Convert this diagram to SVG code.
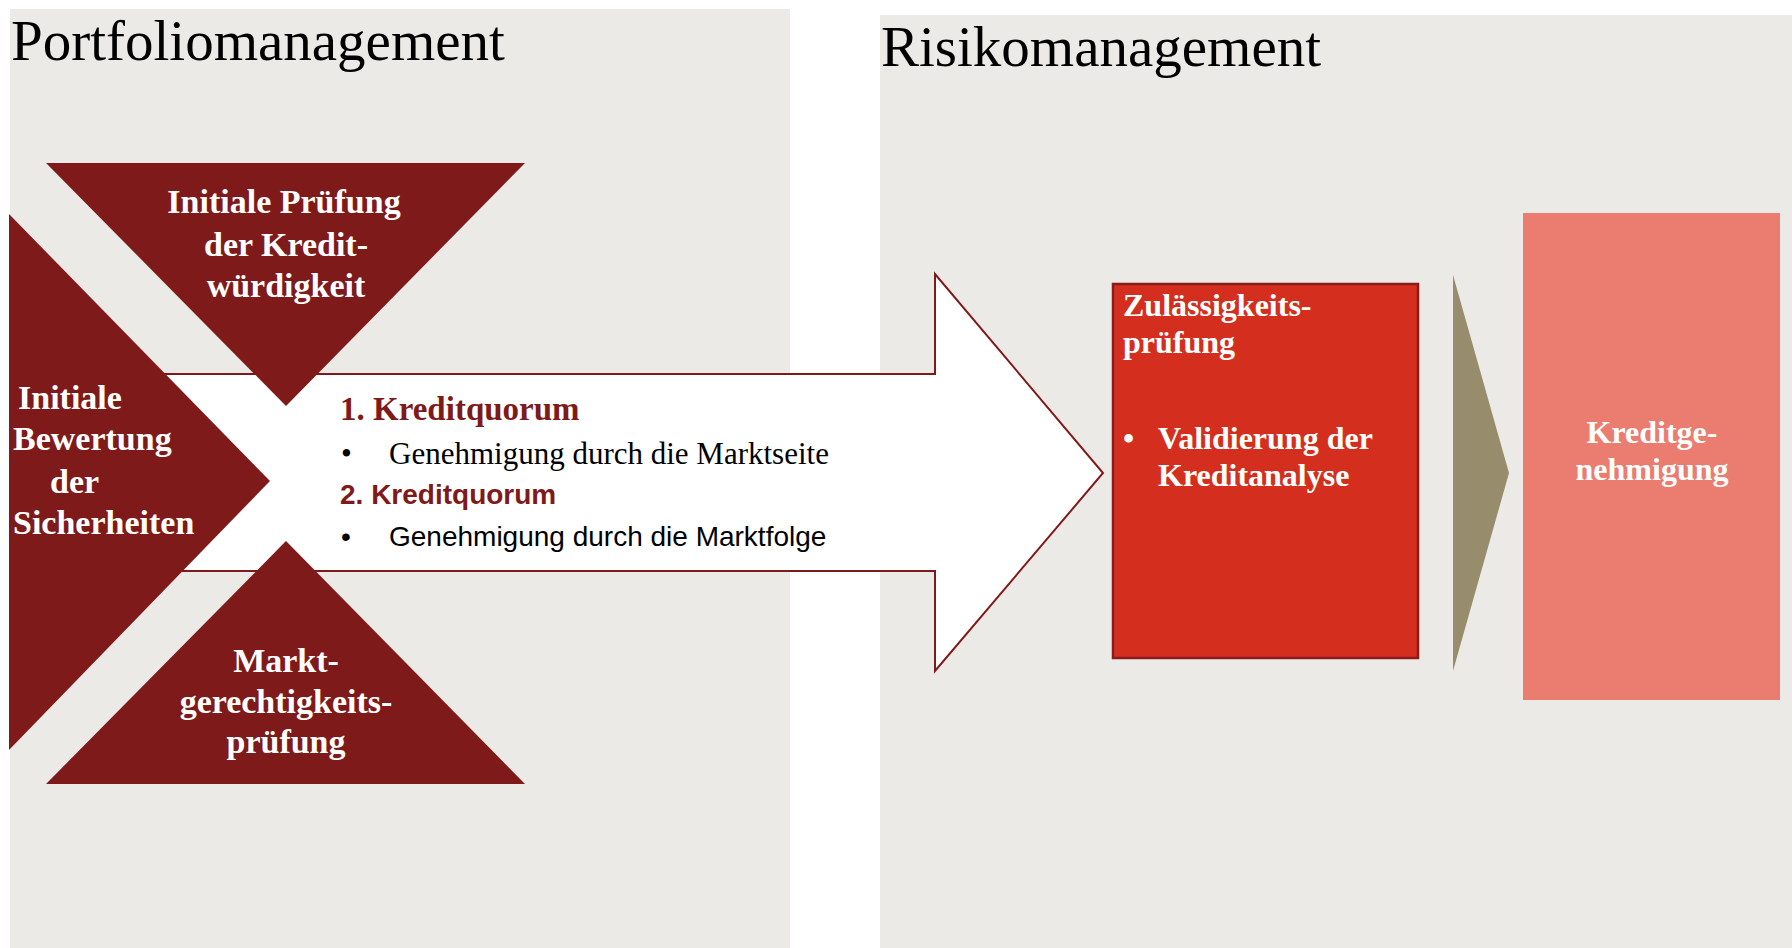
<svg xmlns="http://www.w3.org/2000/svg" width="1792" height="948" viewBox="0 0 1792 948">
<style>
.panel{fill:#ECEAE6}
.title{font-family:"Liberation Serif",serif;font-size:57px;fill:#000}
.tri{fill:#7F1A1A}
.wb{font-family:"Liberation Serif",serif;font-weight:bold;font-size:34px;fill:#fff}
.sm{font-size:32px}
.c{text-anchor:middle}
.q1{font-family:"Liberation Serif",serif;font-weight:bold;font-size:33px;fill:#7F1A1A}
.s1{font-family:"Liberation Serif",serif;font-size:31px;fill:#000}
.q2{font-family:"Liberation Sans",sans-serif;font-weight:bold;font-size:28px;fill:#7F1A1A}
.s2{font-family:"Liberation Sans",sans-serif;font-size:28px;fill:#000}
</style>
<rect width="1792" height="948" fill="#fff"/>
<g id="panel-portfolio">
<rect class="panel" x="10" y="9" width="780" height="939"/>
<text class="title" x="11" y="60">Portfoliomanagement</text>
</g>
<g id="panel-risiko">
<rect class="panel" x="880" y="15" width="912" height="933"/>
<text class="title" x="881" y="66">Risikomanagement</text>
</g>
<g id="connectors">
<path id="big-arrow" d="M10,374 L935,374 L935,274 L1103,473 L935,671 L935,571 L10,571 Z" fill="#fff" stroke="#7F1A1A" stroke-width="2"/>
<polygon id="chevron" points="1453,275 1509,473 1453,671" fill="#978C6B"/>
</g>
<g id="node-pruefung">
<polygon class="tri" points="46,163 525,163 286,406"/>
<text class="wb c" x="284" y="213">Initiale Prüfung</text>
<text class="wb c" x="286" y="256">der Kredit-</text>
<text class="wb c" x="286" y="297">würdigkeit</text>
</g>
<g id="node-bewertung">
<polygon class="tri" points="9,214 270,481 9,750"/>
<text class="wb" x="18" y="409">Initiale</text>
<text class="wb" x="13" y="450">Bewertung</text>
<text class="wb" x="50" y="493">der</text>
<text class="wb" x="13" y="534">Sicherheiten</text>
</g>
<g id="node-markt">
<polygon class="tri" points="286,541 525,784 46,784"/>
<text class="wb c" x="286" y="672">Markt-</text>
<text class="wb c" x="286" y="713">gerechtigkeits-</text>
<text class="wb c" x="286" y="753">prüfung</text>
</g>
<g id="node-quorum">
<text class="q1" x="340" y="420">1. Kreditquorum</text>
<text class="s1" x="341" y="464">•</text>
<text class="s1" x="389" y="464">Genehmigung durch die Marktseite</text>
<text class="q2" x="340" y="504">2. Kreditquorum</text>
<text class="s2" x="341" y="546">•</text>
<text class="s2" x="389" y="546">Genehmigung durch die Marktfolge</text>
</g>
<g id="node-zulaessigkeit">
<rect x="1113" y="284" width="305" height="374" fill="#D42F1E" stroke="#8B1A1A" stroke-width="2.5"/>
<text class="wb sm" x="1123" y="316">Zulässigkeits-</text>
<text class="wb sm" x="1123" y="353">prüfung</text>
<text class="wb sm" x="1123" y="449">•</text>
<text class="wb sm" x="1158" y="449">Validierung der</text>
<text class="wb sm" x="1158" y="486">Kreditanalyse</text>
</g>
<g id="node-genehmigung">
<rect x="1523" y="213" width="257" height="487" fill="#EB7C70"/>
<text class="wb sm c" x="1652" y="443">Kreditge-</text>
<text class="wb sm c" x="1652" y="480">nehmigung</text>
</g>
</svg>
